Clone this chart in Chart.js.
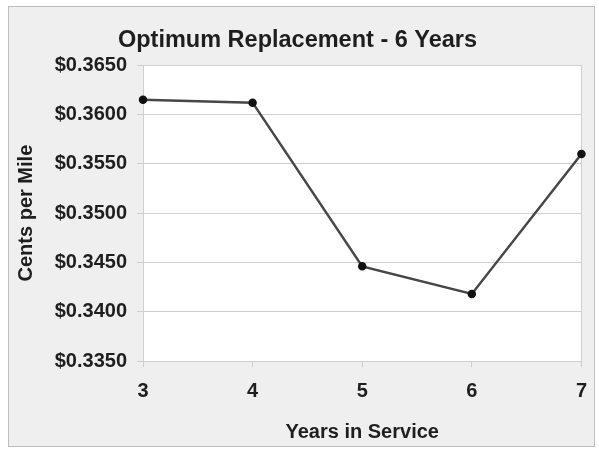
<!DOCTYPE html>
<html>
<head>
<meta charset="utf-8">
<script src="https://cdn.jsdelivr.net/npm/chart.js@4/dist/chart.umd.min.js"></script>
<style>
  html, body { margin: 0; padding: 0; background: #ffffff; }
  #wrap { width: 599px; height: 452px; position: relative; }
</style>
</head>
<body>
<div id="wrap"><canvas id="c" width="599" height="452"></canvas></div>
<script>
// Cost per mile by vehicle age
const years = ['3', '4', '5', '6', '7'];
const centsPerMile = [0.3615, 0.3612, 0.3446, 0.3418, 0.3560];
const yTicks = [0.3350, 0.3400, 0.3450, 0.3500, 0.3550, 0.3600, 0.3650];

const FONT = '"Liberation Sans", Arial, Helvetica, sans-serif';
const GRID = '#cfcfcf';
const TEXT = '#1e1e1e';

// Gray panel with a thin frame behind the whole chart, white plot area
const panel = {
  id: 'panel',
  beforeDraw(chart) {
    const { ctx, chartArea: a } = chart;
    ctx.save();
    ctx.fillStyle = '#ffffff';
    ctx.fillRect(0, 0, chart.width, chart.height);
    ctx.fillStyle = '#efefef';
    ctx.fillRect(8.5, 6.5, 586, 440);
    ctx.strokeStyle = '#bdbdbd';
    ctx.lineWidth = 1;
    ctx.strokeRect(8.5, 6.5, 586, 440);
    ctx.fillStyle = '#ffffff';
    ctx.fillRect(a.left, a.top, a.right - a.left, a.bottom - a.top);
    ctx.restore();
  }
};

new Chart(document.getElementById('c'), {
  type: 'line',
  data: {
    labels: years,
    datasets: [{
      data: centsPerMile,
      borderColor: '#474747',
      borderWidth: 2.5,
      pointBackgroundColor: '#111111',
      pointBorderColor: '#111111',
      pointRadius: 3,
      tension: 0,
      fill: false
    }]
  },
  options: {
    responsive: false,
    animation: false,
    devicePixelRatio: 1,
    layout: { padding: { left: 13, right: 17, top: 10, bottom: 8 } },
    plugins: {
      legend: { display: false },
      tooltip: { enabled: false },
      title: {
        display: true,
        text: 'Optimum Replacement - 6 Years',
        color: TEXT,
        font: { family: FONT, size: 23.5, weight: 'bold' },
        padding: { top: 16, bottom: 11 }
      }
    },
    scales: {
      x: {
        type: 'category',
        offset: false,
        grid: {
          color: (c) => (c.index === years.length - 1 ? GRID : 'rgba(0,0,0,0)'),
          tickColor: GRID,
          tickLength: 6,
          lineWidth: 1
        },
        border: { color: GRID, width: 1 },
        ticks: {
          color: TEXT,
          padding: 12,
          maxRotation: 0,
          font: { family: FONT, size: 20, weight: 'bold' }
        },
        title: {
          display: true,
          text: 'Years in Service',
          color: TEXT,
          font: { family: FONT, size: 20, weight: 'bold' },
          padding: { top: 4, bottom: 0 }
        },
        afterFit(s) { s.height = 452 - 361 - 8; }
      },
      y: {
        min: yTicks[0],
        max: yTicks[yTicks.length - 1],
        afterBuildTicks(s) { s.ticks = yTicks.map(v => ({ value: v })); },
        grid: { color: GRID, tickColor: GRID, tickLength: 6, lineWidth: 1 },
        border: { color: GRID, width: 1 },
        ticks: {
          color: TEXT,
          padding: 10,
          font: { family: FONT, size: 20, weight: 'bold' },
          callback: (v) => '$' + Number(v).toFixed(4)
        },
        title: {
          display: true,
          text: 'Cents per Mile',
          color: TEXT,
          font: { family: FONT, size: 20, weight: 'bold' },
          padding: { top: 1, bottom: 0 }
        },
        afterFit(s) { s.width = 143 - 13; }
      }
    }
  },
  plugins: [panel]
});
</script>
</body>
</html>
